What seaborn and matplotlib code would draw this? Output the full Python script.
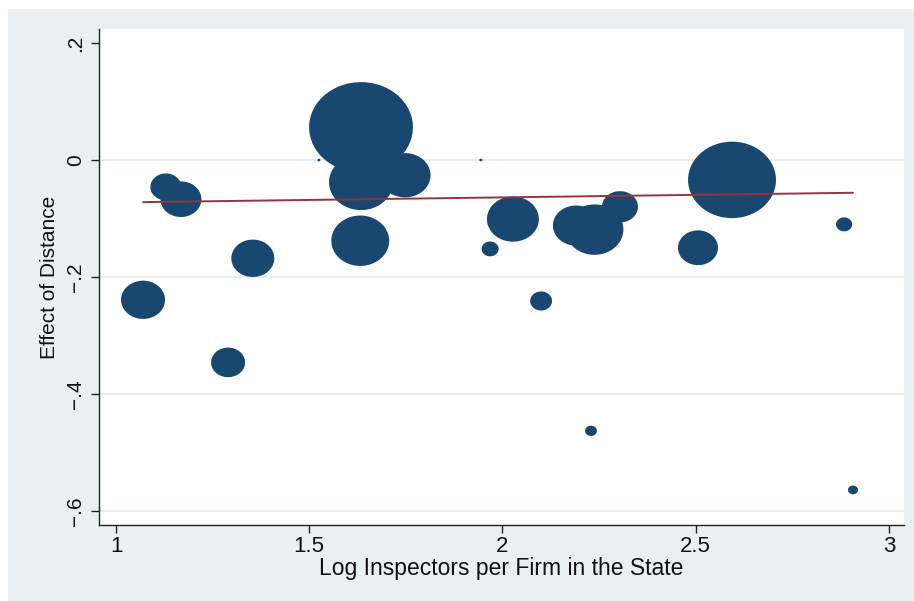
import numpy as np
import pandas as pd
import matplotlib
matplotlib.use("Agg")
import matplotlib.pyplot as plt
from matplotlib.path import Path
from matplotlib.patches import Rectangle
import seaborn as sns

# state-level estimates
inspectors = [1.070, 1.129, 1.168, 1.290, 1.354, 1.634, 1.634, 1.748, 1.632, 1.968,
              2.027, 2.100, 2.190, 2.238, 2.304, 2.229, 2.506, 2.594, 2.884, 2.907,
              1.525, 1.944]
effect = [-0.239, -0.046, -0.067, -0.346, -0.168, 0.056, -0.038, -0.026, -0.138, -0.152,
          -0.101, -0.241, -0.112, -0.119, -0.080, -0.463, -0.150, -0.034, -0.110, -0.564,
          0.000, 0.000]
weight = [19.4, 9.6, 16.8, 11.6, 18.5, 108.0, 41.0, 26.0, 33.6, 2.9,
          27.0, 4.8, 21.2, 33.6, 13.0, 1.4, 16.0, 77.4, 2.6, 1.0,
          0.09, 0.09]

# weighted linear fit shown as the red line
fit_intercept = -0.0813
fit_slope = 0.0087

x_ticks = [1, 1.5, 2, 2.5, 3]
x_ticklabels = ["1", "1.5", "2", "2.5", "3"]
y_ticks = [0.2, 0, -0.2, -0.4, -0.6]
y_ticklabels = [".2", "0", "\u2212.2", "\u2212.4", "\u2212.6"]

df = pd.DataFrame({"x": inspectors, "y": effect, "w": weight})

sns.set_style("white")
plt.rcParams["font.family"] = ["Liberation Sans", "DejaVu Sans"]

bg = "#E8F0F2"
navy = "#1A476F"
maroon = "#94353B"

fig = plt.figure(figsize=(9.14, 6.01), dpi=100, facecolor="white")
fig.patches.append(Rectangle((8 / 914, 0), 1, 1 - 9 / 601, transform=fig.transFigure,
                             facecolor=bg, edgecolor="none", zorder=-10))
ax = fig.add_axes([99 / 914, 76 / 601, 805 / 914, 496 / 601])
ax.set_facecolor("white")

# stretched circle: the bubbles are a bit wider than tall
t = np.linspace(0, 2 * np.pi, 60)
ellipse = Path(np.column_stack([1.15 * np.cos(t), np.sin(t)]), closed=True)

px = 0.72  # points per pixel at 100 dpi
wmax = max(weight)
smax = (np.sqrt(wmax) * 10 * px) ** 2
sns.scatterplot(data=df, x="x", y="y", size="w", sizes=(0, smax), size_norm=(0, wmax),
                marker=ellipse, color=navy, edgecolor="none", linewidth=0,
                legend=False, ax=ax, zorder=3)

xl = np.array([min(inspectors), max(inspectors)])
sns.lineplot(x=xl, y=fit_intercept + fit_slope * xl, color=maroon, linewidth=1.4,
             ax=ax, zorder=4)

for yv in y_ticks[1:]:
    ax.axhline(yv, color="#DDE9EA", linewidth=1.1, zorder=1)

ax.set_xlim(0.956, 3.039)
ax.set_ylim(-0.624, 0.224)
ax.set_xticks(x_ticks)
ax.set_xticklabels(x_ticklabels, fontsize=16)
ax.set_yticks(y_ticks)
ax.set_yticklabels(y_ticklabels, rotation=90, va="center", fontsize=15)

for s in ["top", "right"]:
    ax.spines[s].set_visible(False)
for s in ["left", "bottom"]:
    ax.spines[s].set_color("#222222")
    ax.spines[s].set_linewidth(1.0)

ax.tick_params(axis="both", direction="out", length=6, width=1.0, color="#222222",
               labelcolor="#111111", bottom=True, left=True)
ax.tick_params(axis="y", pad=4)
ax.tick_params(axis="x", pad=2)

ax.set_xlabel("Log Inspectors per Firm in the State", fontsize=16.5, color="#111111", labelpad=0)
ax.set_ylabel("Effect of Distance", fontsize=15, color="#111111", labelpad=5)

fig.savefig("out.png", dpi=100, facecolor="white")
